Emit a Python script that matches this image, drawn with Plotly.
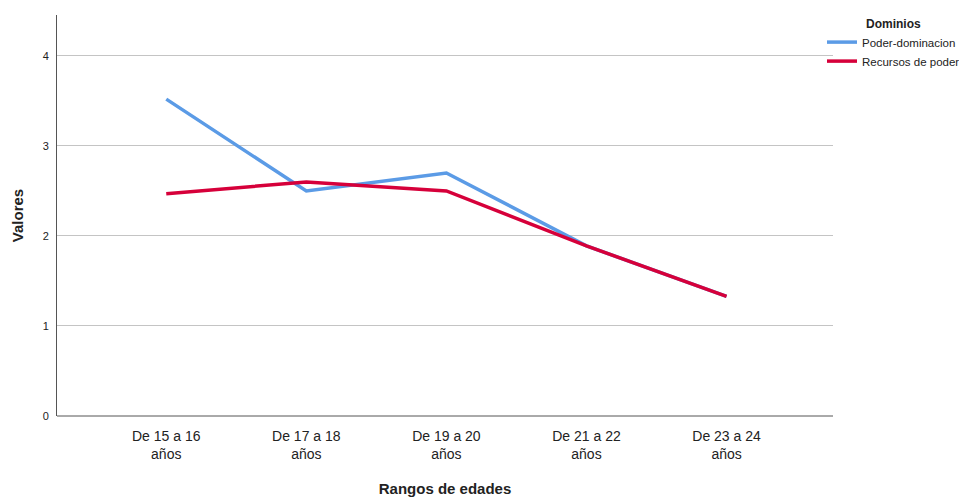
import plotly.graph_objects as go

categories = ["De 15 a 16<br>años", "De 17 a 18<br>años", "De 19 a 20<br>años", "De 21 a 22<br>años", "De 23 a 24<br>años"]
poder_dominacion = [3.52, 2.50, 2.70, 1.89, 1.33]
recursos_poder = [2.47, 2.60, 2.50, 1.89, 1.33]
y_ticks = [0, 1, 2, 3, 4]

x_idx = list(range(len(categories)))

# page body has an 8px default margin, so the figure is sized to fit the window
W, H = 959, 489

fig = go.Figure()
fig.add_trace(go.Scatter(x=x_idx, y=poder_dominacion, mode="lines", name="Poder-dominacion",
                         line=dict(color="#5b9be6", width=3.5)))
fig.add_trace(go.Scatter(x=x_idx, y=recursos_poder, mode="lines", name="Recursos de poder",
                         line=dict(color="#d6003a", width=3.5)))

fig.update_layout(
    width=W, height=H,
    margin=dict(l=49, r=134, t=7, b=81, autoexpand=False),
    plot_bgcolor="white", paper_bgcolor="white",
    font=dict(family="Liberation Sans, Arial, sans-serif", size=12, color="#222222"),
    showlegend=True,
    legend=dict(
        xref="container", yref="container",
        x=814 / W, y=1 - 4 / H, xanchor="left", yanchor="top",
        title=dict(text="<b>Dominios</b>", side="top center", font=dict(size=12)),
        font=dict(size=11.5), tracegroupgap=0, itemwidth=30,
        bgcolor="rgba(0,0,0,0)",
    ),
    xaxis=dict(
        tickmode="array", tickvals=x_idx, ticktext=categories,
        range=[-0.78, 4.76], showgrid=False, zeroline=False, automargin=False,
        showline=False, ticks="", tickfont=dict(size=14, color="#222222"),
        ticklabelstandoff=10,
        title=dict(text="<b>Rangos de edades</b>", font=dict(size=15), standoff=22),
    ),
    yaxis=dict(
        tickmode="array", tickvals=y_ticks, range=[0, 4.455], automargin=False,
        showgrid=True, gridcolor="#c4c4c4", gridwidth=1, zeroline=False,
        showline=True, linecolor="#555555", linewidth=1, ticks="",
        tickfont=dict(size=11, color="#222222"), ticklabelstandoff=5,
        title=dict(text="<b>Valores</b>", font=dict(size=15), standoff=15),
    ),
)
# bottom axis line
fig.add_shape(type="line", xref="paper", yref="paper", x0=0, x1=1, y0=0, y1=0,
              line=dict(color="#555555", width=1))

fig.write_html("out.html")
